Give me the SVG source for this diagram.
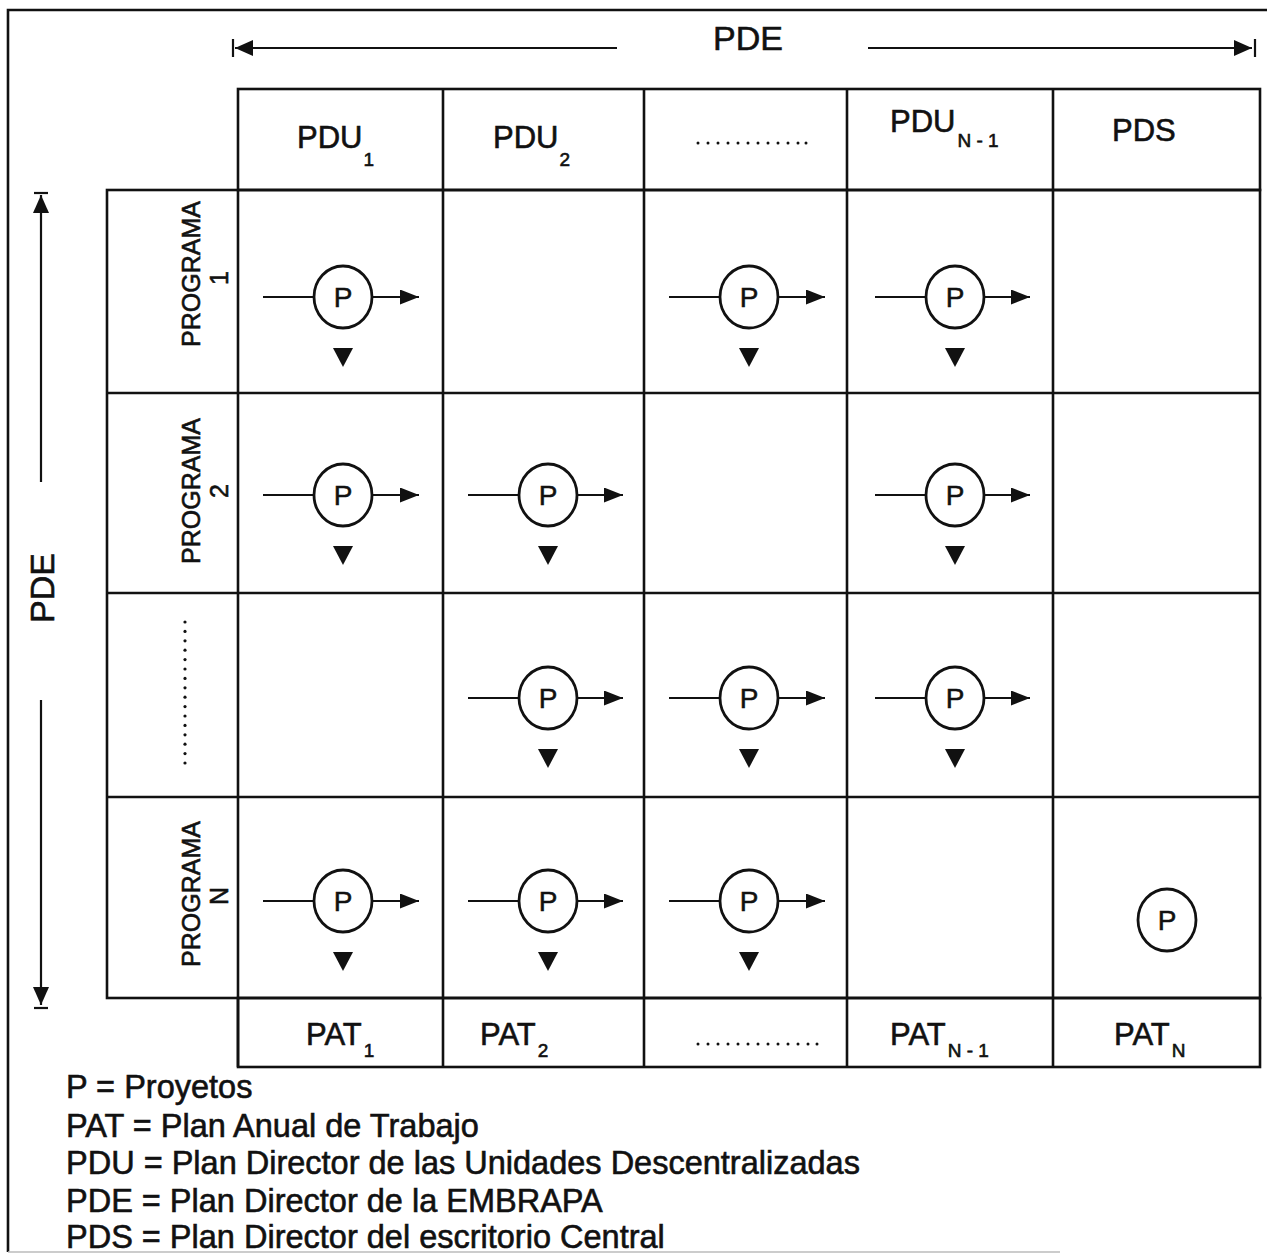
<svg xmlns="http://www.w3.org/2000/svg" width="1267" height="1256" viewBox="0 0 1267 1256">
<style>
  .ln { stroke: #111; stroke-width: 2.6; fill: none; }
  .cn { stroke: #111; stroke-width: 2.2; fill: none; }
  .t { font-family: "Liberation Sans", Arial, sans-serif; fill: #111; stroke: #111; stroke-width: 0.6; }
  .hdr { font-size: 31px; }
  .sub { font-size: 19px; }
  .lbl { font-size: 25px; }
  .leg { font-size: 32.5px; }
  .pc { fill: #fff; stroke: #111; stroke-width: 2.8; }
  .pt { font-family: "Liberation Sans", Arial, sans-serif; font-size: 28px; fill: #111; stroke: #111; stroke-width: 0.5; text-anchor: middle; }
  .dot { fill: #111; }
</style>
<defs>
  <marker id="ah" markerUnits="userSpaceOnUse" markerWidth="19" markerHeight="15" refX="19" refY="7.5" orient="auto">
    <path d="M0,0 L19,7.5 L0,15 z" fill="#111"/>
  </marker>
  <marker id="ahb" markerUnits="userSpaceOnUse" markerWidth="18" markerHeight="16" refX="18" refY="8" orient="auto">
    <path d="M0,0 L18,8 L0,16 z" fill="#111"/>
  </marker>
  <path id="tri" d="M-10,0 L10,0 L0,19 z" fill="#111"/>
</defs>
<rect width="1267" height="1256" fill="#fff"/>

<!-- outer frame -->
<g id="frame">
  <path d="M1267,10 H8 V1252" class="ln" stroke-width="2.2"/>
  <path d="M8,1252 H1060" stroke="#bbb" stroke-width="1.5" fill="none"/>
</g>

<!-- table grid -->
<g id="grid">
  <rect x="238" y="89" width="1022" height="101" class="ln"/>
  <rect x="107" y="190" width="1153" height="808" class="ln"/>
  <rect x="238" y="998" width="1022" height="69" class="ln"/>
  <path class="ln" d="M443,89 V1067 M644,89 V1067 M847,89 V1067 M1053,89 V1067 M238,190 V1067 M107,393 H1260 M107,593 H1260 M107,797 H1260"/>
</g>

<!-- top PDE span -->
<g id="pde-top">
  <text class="t" x="748" y="50" font-size="34" text-anchor="middle">PDE</text>
</g>
<!-- left PDE span -->
<g id="pde-left">
  <text class="t" transform="translate(54,588) rotate(-90)" font-size="34" text-anchor="middle">PDE</text>
</g>

<!-- header cells -->
<g id="hdr-pdu1"><text class="t hdr" x="297" y="148">PDU<tspan class="sub" dx="1" dy="18">1</tspan></text></g>
<g id="hdr-pdu2"><text class="t hdr" x="493" y="148">PDU<tspan class="sub" dx="1" dy="18">2</tspan></text></g>
<g id="hdr-dots">
  <circle class="dot" cx="698" cy="143" r="1.5"/><circle class="dot" cx="708" cy="143" r="1.5"/><circle class="dot" cx="718" cy="143" r="1.5"/><circle class="dot" cx="728" cy="143" r="1.5"/><circle class="dot" cx="738" cy="143" r="1.5"/><circle class="dot" cx="748" cy="143" r="1.5"/><circle class="dot" cx="758" cy="143" r="1.5"/><circle class="dot" cx="768" cy="143" r="1.5"/><circle class="dot" cx="778" cy="143" r="1.5"/><circle class="dot" cx="788" cy="143" r="1.5"/><circle class="dot" cx="798" cy="143" r="1.5"/><circle class="dot" cx="806" cy="143" r="1.5"/>
</g>
<g id="hdr-pdun1"><text class="t hdr" x="890" y="132">PDU<tspan class="sub" dx="2" dy="15">N - 1</tspan></text></g>
<g id="hdr-pds"><text class="t hdr" x="1112" y="141">PDS</text></g>

<!-- row labels -->
<g id="row1">
  <text class="t lbl" transform="translate(200,274) rotate(-90)" text-anchor="middle">PROGRAMA</text>
  <text class="t lbl" transform="translate(228,278) rotate(-90)" text-anchor="middle">1</text>
</g>
<g id="row2">
  <text class="t lbl" transform="translate(200,491) rotate(-90)" text-anchor="middle">PROGRAMA</text>
  <text class="t lbl" transform="translate(228,491) rotate(-90)" text-anchor="middle">2</text>
</g>
<g id="row3">
  <circle class="dot" cx="185" cy="622" r="1.6"/><circle class="dot" cx="185" cy="631.4" r="1.6"/><circle class="dot" cx="185" cy="640.8" r="1.6"/><circle class="dot" cx="185" cy="650.2" r="1.6"/><circle class="dot" cx="185" cy="659.6" r="1.6"/><circle class="dot" cx="185" cy="669" r="1.6"/><circle class="dot" cx="185" cy="678.4" r="1.6"/><circle class="dot" cx="185" cy="687.8" r="1.6"/><circle class="dot" cx="185" cy="697.2" r="1.6"/><circle class="dot" cx="185" cy="706.6" r="1.6"/><circle class="dot" cx="185" cy="716" r="1.6"/><circle class="dot" cx="185" cy="725.4" r="1.6"/><circle class="dot" cx="185" cy="734.8" r="1.6"/><circle class="dot" cx="185" cy="744.2" r="1.6"/><circle class="dot" cx="185" cy="753.6" r="1.6"/><circle class="dot" cx="185" cy="763" r="1.6"/>
</g>
<g id="row4">
  <text class="t lbl" transform="translate(200,894) rotate(-90)" text-anchor="middle">PROGRAMA</text>
  <text class="t lbl" transform="translate(228,896) rotate(-90)" text-anchor="middle">N</text>
</g>

<!-- footer cells -->
<g id="ftr-pat1"><text class="t hdr" x="306" y="1045">PAT<tspan class="sub" dx="2" dy="12">1</tspan></text></g>
<g id="ftr-pat2"><text class="t hdr" x="480" y="1045">PAT<tspan class="sub" dx="2" dy="12">2</tspan></text></g>
<g id="ftr-dots">
  <circle class="dot" cx="698" cy="1044" r="1.5"/><circle class="dot" cx="708" cy="1044" r="1.5"/><circle class="dot" cx="718" cy="1044" r="1.5"/><circle class="dot" cx="728" cy="1044" r="1.5"/><circle class="dot" cx="738" cy="1044" r="1.5"/><circle class="dot" cx="748" cy="1044" r="1.5"/><circle class="dot" cx="758" cy="1044" r="1.5"/><circle class="dot" cx="768" cy="1044" r="1.5"/><circle class="dot" cx="778" cy="1044" r="1.5"/><circle class="dot" cx="788" cy="1044" r="1.5"/><circle class="dot" cx="798" cy="1044" r="1.5"/><circle class="dot" cx="808" cy="1044" r="1.5"/><circle class="dot" cx="817" cy="1044" r="1.5"/>
</g>
<g id="ftr-patn1"><text class="t hdr" x="890" y="1045">PAT<tspan class="sub" dx="2" dy="12">N - 1</tspan></text></g>
<g id="ftr-patn"><text class="t hdr" x="1114" y="1045">PAT<tspan class="sub" dx="2" dy="12">N</tspan></text></g>

<!-- connectors -->
<g id="connectors">
  <!-- span arrows -->
  <path class="cn" d="M617,48 H235" marker-end="url(#ahb)"/>
  <path class="cn" d="M233,39 V57"/>
  <path class="cn" d="M868,48 H1252" marker-end="url(#ahb)"/>
  <path class="cn" d="M1255,39 V57"/>
  <path class="cn" d="M41,482 V195" marker-end="url(#ahb)"/>
  <path class="cn" d="M34,193 H48"/>
  <path class="cn" d="M41,700 V1005" marker-end="url(#ahb)"/>
  <path class="cn" d="M34,1008 H48"/>

  <!-- row 1 -->
  <path class="cn" d="M263,297 H314 M372,297 H419" marker-end="url(#ah)"/>
  <path class="cn" d="M669,297 H720 M778,297 H825" marker-end="url(#ah)"/>
  <path class="cn" d="M875,297 H926 M984,297 H1030" marker-end="url(#ah)"/>
  <!-- row 2 -->
  <path class="cn" d="M263,495 H314 M372,495 H419" marker-end="url(#ah)"/>
  <path class="cn" d="M468,495 H519 M577,495 H623" marker-end="url(#ah)"/>
  <path class="cn" d="M875,495 H926 M984,495 H1030" marker-end="url(#ah)"/>
  <!-- row 3 -->
  <path class="cn" d="M468,698 H519 M577,698 H623" marker-end="url(#ah)"/>
  <path class="cn" d="M669,698 H720 M778,698 H825" marker-end="url(#ah)"/>
  <path class="cn" d="M875,698 H926 M984,698 H1030" marker-end="url(#ah)"/>
  <!-- row 4 -->
  <path class="cn" d="M263,901 H314 M372,901 H419" marker-end="url(#ah)"/>
  <path class="cn" d="M468,901 H519 M577,901 H623" marker-end="url(#ah)"/>
  <path class="cn" d="M669,901 H720 M778,901 H825" marker-end="url(#ah)"/>

  <!-- down triangles -->
  <use href="#tri" x="343" y="348"/>
  <use href="#tri" x="749" y="348"/>
  <use href="#tri" x="955" y="348"/>
  <use href="#tri" x="343" y="546"/>
  <use href="#tri" x="548" y="546"/>
  <use href="#tri" x="955" y="546"/>
  <use href="#tri" x="548" y="749"/>
  <use href="#tri" x="749" y="749"/>
  <use href="#tri" x="955" y="749"/>
  <use href="#tri" x="343" y="952"/>
  <use href="#tri" x="548" y="952"/>
  <use href="#tri" x="749" y="952"/>
</g>

<!-- P nodes -->
<g id="p-r1c1"><ellipse class="pc" cx="343" cy="297" rx="29" ry="31"/><text class="pt" x="343" y="307">P</text></g>
<g id="p-r1c3"><ellipse class="pc" cx="749" cy="297" rx="29" ry="31"/><text class="pt" x="749" y="307">P</text></g>
<g id="p-r1c4"><ellipse class="pc" cx="955" cy="297" rx="29" ry="31"/><text class="pt" x="955" y="307">P</text></g>
<g id="p-r2c1"><ellipse class="pc" cx="343" cy="495" rx="29" ry="31"/><text class="pt" x="343" y="505">P</text></g>
<g id="p-r2c2"><ellipse class="pc" cx="548" cy="495" rx="29" ry="31"/><text class="pt" x="548" y="505">P</text></g>
<g id="p-r2c4"><ellipse class="pc" cx="955" cy="495" rx="29" ry="31"/><text class="pt" x="955" y="505">P</text></g>
<g id="p-r3c2"><ellipse class="pc" cx="548" cy="698" rx="29" ry="31"/><text class="pt" x="548" y="708">P</text></g>
<g id="p-r3c3"><ellipse class="pc" cx="749" cy="698" rx="29" ry="31"/><text class="pt" x="749" y="708">P</text></g>
<g id="p-r3c4"><ellipse class="pc" cx="955" cy="698" rx="29" ry="31"/><text class="pt" x="955" y="708">P</text></g>
<g id="p-r4c1"><ellipse class="pc" cx="343" cy="901" rx="29" ry="31"/><text class="pt" x="343" y="911">P</text></g>
<g id="p-r4c2"><ellipse class="pc" cx="548" cy="901" rx="29" ry="31"/><text class="pt" x="548" y="911">P</text></g>
<g id="p-r4c3"><ellipse class="pc" cx="749" cy="901" rx="29" ry="31"/><text class="pt" x="749" y="911">P</text></g>
<g id="p-r4c5"><ellipse class="pc" cx="1167" cy="920" rx="29" ry="31"/><text class="pt" x="1167" y="930">P</text></g>

<!-- legend -->
<g id="legend">
  <text class="t leg" x="66" y="1098">P = Proyetos</text>
  <text class="t leg" x="66" y="1137">PAT = Plan Anual de Trabajo</text>
  <text class="t leg" x="66" y="1174">PDU = Plan Director de las Unidades Descentralizadas</text>
  <text class="t leg" x="66" y="1212">PDE = Plan Director de la EMBRAPA</text>
  <text class="t leg" x="66" y="1248">PDS = Plan Director del escritorio Central</text>
</g>
</svg>
